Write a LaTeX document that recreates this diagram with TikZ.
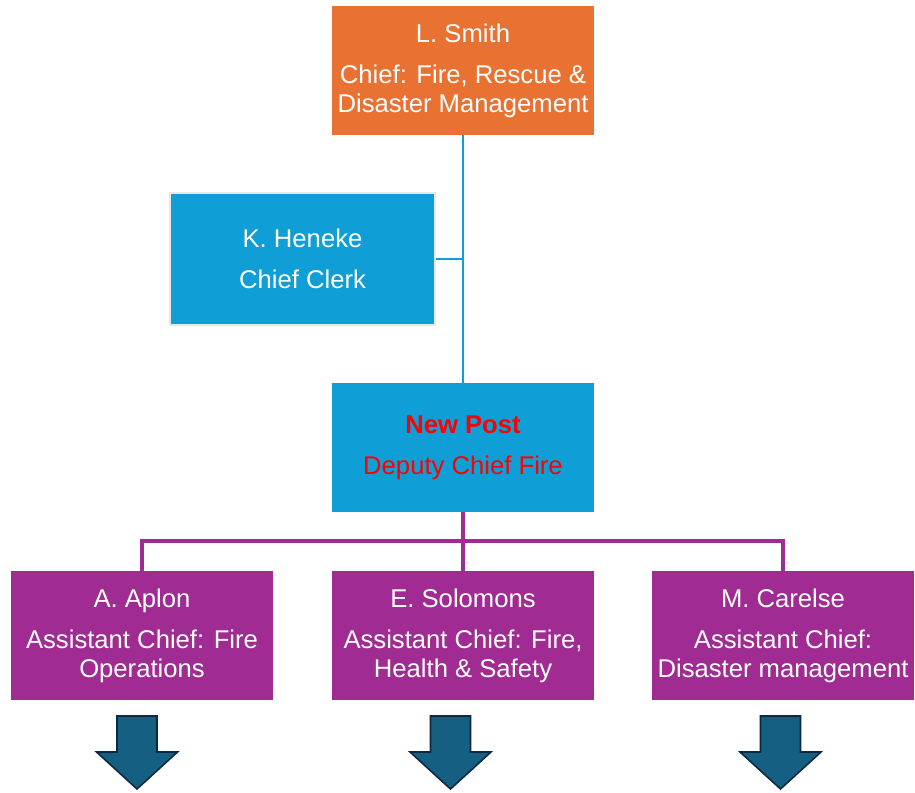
\documentclass[tikz,border=0pt]{standalone}
\usepackage{fontspec}
\setmainfont{Liberation Sans}
\usetikzlibrary{positioning}

\definecolor{chieforange}{HTML}{E97132}
\definecolor{staffblue}{HTML}{0F9ED5}
\definecolor{assistpurple}{HTML}{A02B93}
\definecolor{arrowteal}{HTML}{156082}
\definecolor{arrowedge}{HTML}{0E2841}

\begin{document}
\begin{tikzpicture}[x=0.02cm,y=-0.02cm,
        post/.style={minimum width=5.24cm,minimum height=2.58cm,inner sep=0pt,
            align=center,text=white,font=\fontsize{14.6}{16.5}\selectfont},
        orange post/.style={post,fill=chieforange},
        blue post/.style={post,fill=staffblue},
        purple post/.style={post,fill=assistpurple},
        blue line/.style={draw=staffblue,line width=1.5pt},
        purple line/.style={draw=assistpurple,line width=1.8pt},
        down arrow/.style={fill=arrowteal,draw=arrowedge,line width=0.9pt,line join=miter},
    ]
        \useasboundingbox (0,0) rectangle (915,793);

        % chief
        \node (smith) at (463,70.5) [orange post]
            {L. Smith\\[6.8pt]Chief: Fire, Rescue \&\\Disaster Management};

        % clerk
        \node (heneke) at (302.5,259) [blue post,minimum width=5.3cm,minimum height=2.64cm,
            draw=black!9,line width=1.2pt]
            {K. Heneke\\[6.8pt]Chief Clerk};

        % deputy
        \node (newpost) at (463,447.5) [blue post,text=red]
            {\textbf{New Post}\\[6.8pt]Deputy Chief Fire};

        \draw[blue line] (smith) -- (newpost);
        \draw[blue line] (heneke.east) -- (heneke.east -| smith);

        % assistants
        \node (aplon)    at (142,635.5) [purple post]
            {A. Aplon\\[6.8pt]Assistant Chief: Fire\\Operations};
        \node (solomons) at (463,635.5) [purple post]
            {E. Solomons\\[6.8pt]Assistant Chief: Fire,\\Health \& Safety};
        \node (carelse)  at (783,635.5) [purple post]
            {M. Carelse\\[6.8pt]Assistant Chief:\\Disaster management};

        \coordinate (bus) at (463,541);
        \draw[purple line] (newpost) -- (bus);
        \draw[purple line] (aplon.north) |- (bus);
        \draw[purple line] (carelse.north) |- (bus);
        \draw[purple line] (bus) -- (solomons.north);

        % arrows below
        \draw[down arrow] (117,716) -- ++(40,0) -- ++(0,36) -- ++(20.5,0)
            -- ++(-40.5,37) -- ++(-40.5,-37) -- ++(20.5,0) -- cycle;
        \draw[down arrow] (430.5,716) -- ++(40,0) -- ++(0,36) -- ++(20.5,0)
            -- ++(-40.5,37) -- ++(-40.5,-37) -- ++(20.5,0) -- cycle;
        \draw[down arrow] (760.5,716) -- ++(40,0) -- ++(0,36) -- ++(20.5,0)
            -- ++(-40.5,37) -- ++(-40.5,-37) -- ++(20.5,0) -- cycle;
    \end{tikzpicture}
\end{document}
